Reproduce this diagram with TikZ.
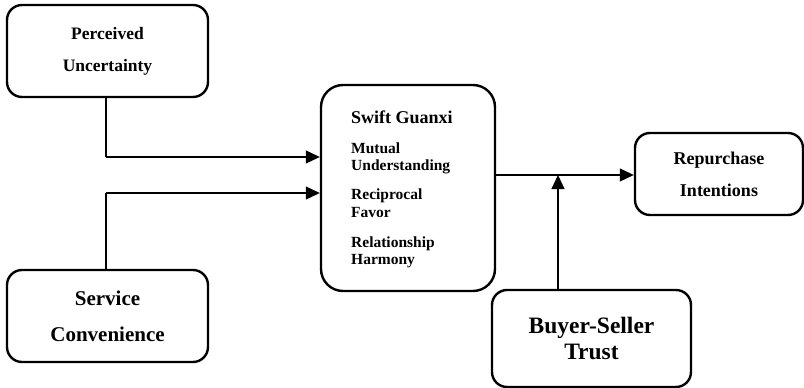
\documentclass[tikz,border=0pt]{standalone}
\usepackage{fontspec}
\setmainfont{Liberation Serif}
\usetikzlibrary{arrows.meta}
\begin{document}
\begin{tikzpicture}[x=1pt,y=-1pt,
  box/.style={draw,line width=2.4pt,rounded corners=15pt,inner sep=0pt,align=center},
  link/.style={line width=1.1pt},
  arr/.style={link,-{Triangle[length=14pt,width=13pt]}},
  item/.style={anchor=base west,inner sep=0pt,font=\bfseries\fontsize{15.5}{17.5}\selectfont}
]
\useasboundingbox (0,0) rectangle (804,388);

% construct boxes
\node[box,minimum width=201pt,minimum height=92pt,
  font=\bfseries\fontsize{17.5}{32}\selectfont] (pu) at (107.5,51) {Perceived\\Uncertainty};
\node[box,minimum width=201pt,minimum height=92pt,
  font=\bfseries\fontsize{21}{36}\selectfont] (sc) at (107.5,316) {Service\\Convenience};
\node[box,rounded corners=22pt,minimum width=174pt,minimum height=206pt] (sg) at (408,188) {};
\node[box,minimum width=168pt,minimum height=82pt,
  font=\bfseries\fontsize{18}{32}\selectfont] (ri) at (719,174) {Repurchase\\Intentions};
\node[box,minimum width=199pt,minimum height=97pt,
  font=\bfseries\fontsize{23.5}{26}\selectfont] (bst) at (591.5,338.5) {Buyer-Seller\\Trust};

% dimensions of swift guanxi
\node[anchor=base west,inner sep=0pt,font=\bfseries\fontsize{18}{20}\selectfont] (sgt) at (351,123) {Swift Guanxi};
\node[item] (mu1) at (351,153) {Mutual};
\node[item] (mu2) at (351,170) {Understanding};
\node[item] (rf1) at (351,199) {Reciprocal};
\node[item] (rf2) at (351,217) {Favor};
\node[item] (rh1) at (351,247) {Relationship};
\node[item] (rh2) at (351,264) {Harmony};

% connectors
\coordinate (j1) at (106,157);
\coordinate (j2) at (106,193);
\coordinate (m) at (558,175);
\draw[link] (pu.south -| j1) -- (j1);
\draw[arr] (j1) -- (j1 -| sg.west);
\draw[link] (sc.north -| j2) -- (j2);
\draw[arr] (j2) -- (j2 -| sg.west);
\draw[arr] (m -| sg.east) -- (m -| ri.west);
\draw[arr] (bst.north -| m) -- (m);
\end{tikzpicture}
\end{document}
